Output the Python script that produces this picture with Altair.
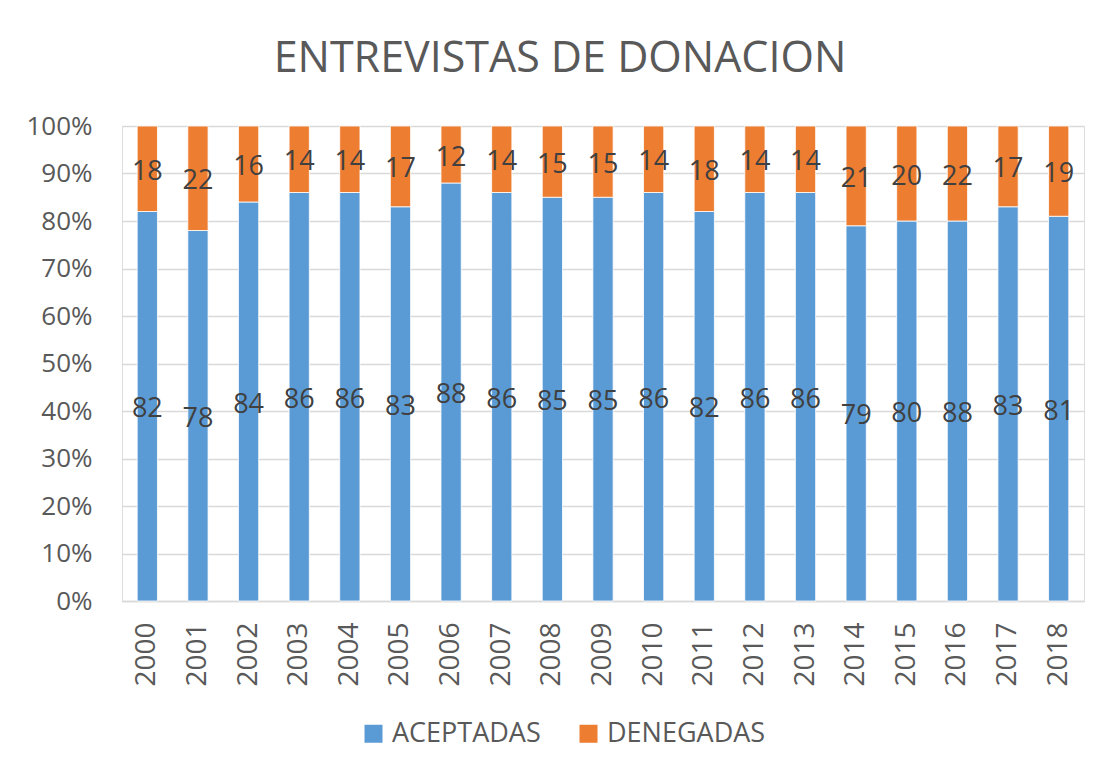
import altair as alt
import pandas as pd

years = [str(y) for y in range(2000, 2019)]
aceptadas = [82, 78, 84, 86, 86, 83, 88, 86, 85, 85, 86, 82, 86, 86, 79, 80, 88, 83, 81]
denegadas = [18, 22, 16, 14, 14, 17, 12, 14, 15, 15, 14, 18, 14, 14, 21, 20, 22, 17, 19]
series = ["ACEPTADAS", "DENEGADAS"]
colors = ["#5B9BD5", "#ED7D31"]

rows = []
for i, y in enumerate(years):
    rows.append({"year": y, "serie": series[0], "value": aceptadas[i], "order": 0})
    rows.append({"year": y, "serie": series[1], "value": denegadas[i], "order": 1})
df = pd.DataFrame(rows)

FONT = "Open Sans"

base = alt.Chart(df).transform_stack(
    stack="value",
    groupby=["year"],
    as_=["v0", "v1"],
    offset="normalize",
    sort=[alt.SortField("order", order="ascending")],
).transform_calculate(mid="(datum.v0 + datum.v1) / 2")

xenc = alt.X(
    "year:N",
    title=None,
    scale=alt.Scale(paddingInner=0.6, paddingOuter=0.3),
    axis=alt.Axis(
        labelAngle=-90,
        labelFontSize=28,
        labelColor="#595959",
        labelFont=FONT,
        labelPadding=21,
        ticks=False,
        domainColor="#d9d9d9",
        domainWidth=1.5,
        grid=False,
    ),
)

bars = base.mark_bar(stroke="white", strokeWidth=0.8).encode(
    x=xenc,
    y=alt.Y(
        "v0:Q",
        title=None,
        scale=alt.Scale(domain=[0, 1]),
        axis=alt.Axis(
            format="%",
            values=[i / 10 for i in range(11)],
            labelFontSize=26,
            labelColor="#595959",
            labelFont=FONT,
            labelPadding=30,
            ticks=False,
            domain=False,
            gridColor="#d9d9d9",
            gridWidth=1.5,
        ),
    ),
    y2="v1:Q",
    color=alt.Color(
        "serie:N",
        scale=alt.Scale(domain=series, range=colors),
        legend=alt.Legend(
            title=None,
            orient="none",
            legendX=238,
            legendY=594,
            direction="horizontal",
            symbolType="square",
            symbolSize=324,
            symbolStrokeWidth=0,
            labelFontSize=27,
            labelFont=FONT,
            labelColor="#595959",
            labelOffset=5,
            columnPadding=34,
            padding=0,
        ),
    ),
)

labels = base.mark_text(fontSize=27, font=FONT, color="#404040", dy=3).encode(
    x=alt.X("year:N"),
    y=alt.Y("mid:Q"),
    text=alt.Text("value:Q"),
)

chart = (
    alt.layer(bars, labels)
    .properties(
        width=962,
        height=475,
        title=alt.TitleParams(
            "ENTREVISTAS DE DONACION",
            fontSize=43,
            font=FONT,
            fontWeight="normal",
            color="#595959",
            anchor="middle",
            frame="bounds",
            offset=32,
            dx=5,
        ),
        padding={"left": 17, "top": 30, "right": 10, "bottom": 10},
    )
    .configure_view(stroke=None)
    .configure(background="white")
)

chart.save("out.html", embed_options={"renderer": "svg", "actions": False})
